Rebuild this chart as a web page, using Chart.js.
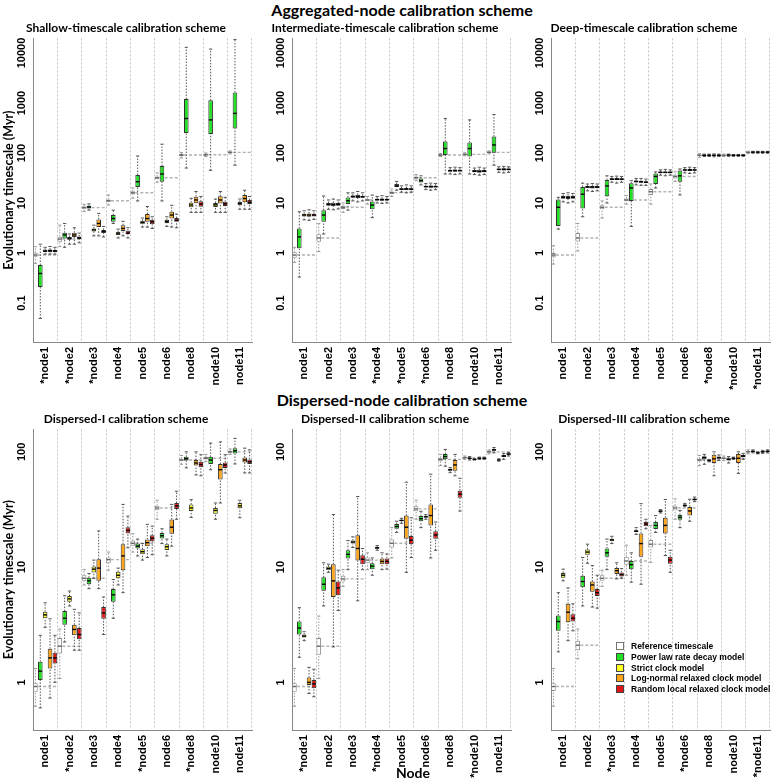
<!DOCTYPE html>
<html>
<head>
<meta charset="utf-8">
<title>Calibration schemes</title>
<script src="https://cdn.jsdelivr.net/npm/chart.js"></script>
<style>
  body { margin: 0; width: 778px; height: 779px; overflow: hidden; background: #fff; position: relative; }
  canvas { position: absolute; }
  .head { position: absolute; left: 0; width: 804px; text-align: center; font: bold 16px Lato, sans-serif; color: #000; z-index: 2; }
  #nodeLabel { position: absolute; left: 383px; width: 60px; top: 764px; text-align: center; font: bold 14px Lato, sans-serif; z-index: 2; }
  #legend { position: absolute; left: 614px; top: 641px; font: bold 8.5px "Liberation Sans", Arial, sans-serif; z-index: 2; }
  #legend div { height: 10.8px; line-height: 10.8px; white-space: nowrap; }
  #legend span { display: inline-block; width: 6px; height: 6px; margin: 0 7px 0 2px; vertical-align: -1px; border: 1px solid #555; }
</style>
</head>
<body>
<div class="head" style="top:0px">Aggregated-node calibration scheme</div>
<div class="head" style="top:390px">Dispersed-node calibration scheme</div>
<div id="nodeLabel">Node</div>
<div id="legend"></div>

<canvas id="c1" width="285" height="371" style="left:0px;top:19px"></canvas>
<canvas id="c2" width="285" height="371" style="left:259px;top:19px"></canvas>
<canvas id="c3" width="285" height="371" style="left:518px;top:19px"></canvas>
<canvas id="c4" width="285" height="368" style="left:0px;top:410px"></canvas>
<canvas id="c5" width="285" height="368" style="left:259px;top:410px"></canvas>
<canvas id="c6" width="285" height="368" style="left:518px;top:410px"></canvas>

<script>
// boxes are [lower whisker, q1, median, q3, upper whisker] in Myr
const models = ['Reference timescale', 'Power law rate decay model', 'Strict clock model',
  'Log-normal relaxed clock model', 'Random local relaxed clock model'];
const fills = ['#ffffff', '#22e022', '#ffff22', '#ffa51a', '#e01515'];
const edges = ['#8c8c8c', '#333333', '#333333', '#333333', '#333333'];

const topTicks = [0.1, 1, 10, 100, 1000, 10000];
const topTickLabels = ['0.1', '1', '10', '100', '1000', '10000'];
const bottomTicks = [1, 10, 100];
const bottomTickLabels = ['1', '10', '100'];

const shallowNodes = ['*node1', '*node2', '*node3', 'node4', 'node5', 'node6', 'node8', 'node10', 'node11'];
const interNodes = ['node1', 'node2', 'node3', '*node4', '*node5', '*node6', 'node8', 'node10', 'node11'];
const deepNodes = ['node1', 'node2', 'node3', 'node4', 'node5', 'node6', '*node8', '*node10', '*node11'];
const disp1Nodes = ['node1', '*node2', 'node3', 'node4', '*node5', 'node6', '*node8', 'node10', 'node11'];
const disp2Nodes = ['*node1', 'node2', 'node3', '*node4', 'node5', 'node6', 'node8', '*node10', 'node11'];
const disp3Nodes = ['node1', 'node2', '*node3', 'node4', 'node5', '*node6', 'node8', 'node10', '*node11'];

// Shallow-timescale
const shallowRef = [[0.62,0.84,0.91,1.01,1.34],[1.34,1.68,1.9,2.12,3.6],[6.8,7.7,8.1,8.5,9.4],[9.1,10.4,11.1,11.8,14.5],[12.5,15,16,17.2,20],[26,30,32,34,40],[80,87,91,95,102],[85,89,92,95,100],[96,100,103,106,110]];
const shallowPow = [[0.049,0.21,0.39,0.575,1.5],[1.3,1.96,2.3,2.55,3.9],[7.2,7.8,8.3,8.8,9.6],[3.9,4.2,4.9,5.75,7.2],[11,20.8,26.7,36.3,87],[11,26.7,38,55,150],[50,250,490,1200,13000],[45,240,460,1130,12000],[57,310,620,1630,18700]];
const shallowStrict = [[0.95,1.05,1.1,1.17,1.3],[1.5,1.85,1.96,2.1,2.4],[2.2,2.7,2.9,3.1,3.6],[2.0,2.3,2.5,2.6,3.0],[3.3,3.75,4.1,4.4,5.0],[3.4,4.0,4.3,4.6,5.3],[6.5,8.2,9.1,10.1,12.4],[6.5,8.3,9.2,10.0,12],[7.5,9.0,9.7,10.5,12]];
const shallowLogn = [[0.95,1.05,1.12,1.18,1.35],[1.5,2.1,2.3,2.55,3.2],[2.2,3.3,3.9,4.7,6.2],[2.2,2.75,3.1,3.6,4.3],[3.3,4.2,4.9,6.0,8.5],[3.3,4.9,5.75,6.7,9.0],[6.5,9.9,11.5,13.4,17],[6.5,9.8,11.5,13.6,17],[7.5,10.3,12.3,14.4,18]];
const shallowRloc = [[0.95,1.05,1.1,1.16,1.3],[1.6,1.9,2.0,2.15,2.5],[2.1,2.5,2.7,2.9,3.4],[2.0,2.4,2.5,2.8,3.2],[3.1,3.75,4.2,4.6,5.3],[3.2,4.2,4.5,5.0,6.0],[6.5,8.4,9.5,10.8,13.5],[6.5,8.7,9.6,10.6,13],[7.5,9.6,10.3,11.5,13.5]];

// Intermediate-timescale
const interRef = [[0.65,0.8,0.91,1.03,1.3],[1.07,1.68,2.0,2.37,3.9],[6.5,7.6,8.2,8.8,10],[9.5,10.8,11.5,12.2,13.5],[13.5,15.2,16.1,17,19],[28,30.5,32,34,37],[85,88,91,94,98],[88,91,94,97,101],[96,100,103,106,110]];
const interPow = [[0.33,1.24,2.1,3.1,6.7],[2.4,4.2,5.75,7.2,13.8],[7.2,9.5,11.1,12.9,16],[5.1,7.5,9.1,10.7,14.4],[18,20.8,22,24,27],[23,25.6,28,31,35],[38,91,123,169,490],[38,85,123,162,460],[57,101,145,213,590]];
const interStrict = [[4.6,5.4,5.75,6.1,7.0],[7.5,8.8,9.4,10,11.5],[11,12.8,13.5,14.2,16],[10,11.2,11.7,12.2,13.5],[16.5,18.2,19,19.8,22],[18.5,20.5,21.3,22.2,24.5],[38,42,44.5,46.5,51],[37,41,43,45.5,50],[41,45,47,49,53]];
const interLogn = [[4.5,5.3,5.75,6.2,7.3],[7.3,8.7,9.4,10.1,12],[10.5,12.6,13.6,14.6,17],[9.8,11.1,11.7,12.3,14],[16,18,19,20,23],[18,20.3,21.3,22.4,25],[37,42,44.5,47,52],[36,40.5,43,46,52],[40,44.5,47,49.5,54]];
const interRloc = [[4.7,5.4,5.75,6.1,7.0],[7.6,8.8,9.4,10,11.5],[11,12.7,13.3,14,16],[10,11.2,11.7,12.2,13.5],[16.5,18.2,19,19.8,22],[18.5,20.5,21.3,22.2,24.5],[38,42.5,44.5,46.5,51],[37,41,43,45.5,50],[41,45,47,49,53]];

// Deep-timescale
const deepRef = [[0.6,0.82,0.91,1.0,1.4],[1.1,1.7,2.0,2.5,3.9],[5.0,7.5,8.2,9.0,11],[9.5,10.8,11.5,12.3,14],[9.5,14.5,16.8,19,24],[27,31,33.8,36,42],[82,87,90,93,97],[85,88,90,92,95],[97,100,103,105,108]];
const deepPow = [[3.0,3.47,8.2,11.8,13],[5.3,7.8,15,21,25],[10,13.6,22,29,35],[3.4,11,20,24.7,28],[20,24,34,39,42],[14.5,26.7,35,44.5,48],[85,88,90,92,95],[86,89,91,93,95],[99,102,104,106,108]];
const deepStrict = [[10.5,12.2,13,13.8,15.5],[17.5,19.8,20.8,21.8,24],[26,28.8,30,31.2,34],[23,25.8,27,28.2,31],[36,39.5,41,42.5,46],[40,44,45.7,47.4,51],[85,88,90,92,95],[86,89,90,91,93],[99,102,104,106,108]];
const deepLogn = [[10,12,13,14,16],[17,19.6,20.8,22,24.5],[25,28.5,30,31.5,34.5],[22.5,25.3,26.6,28,31],[35,39.3,41,42.7,47],[39,43.7,45.7,47.7,52],[84,88,90,92,96],[86,89,90,91,93],[99,102,104,106,108]];
const deepRloc = [[10.5,12.2,13,13.8,15.5],[17.5,19.8,20.8,21.8,24],[26,28.8,30,31.2,34],[22.5,25,26,27.2,30],[36,39.5,41,42.5,46],[40,44,45.7,47.4,51],[85,88,90,92,95],[86,89,90,91,93],[99,102,104,106,108]];

// Dispersed-I
const disp1Ref = [[0.62,0.83,0.92,0.98,1.32],[1.08,1.78,2.06,2.43,2.9],[7.0,7.6,8.0,8.5,9.5],[9.4,10.8,11.6,12.1,13.5],[13.5,15.3,16.1,17,19.5],[26,31.1,32.6,34,38],[78,83,85,87.5,93],[82,86,88,90,95],[95,98,100,102,106]];
const disp1Pow = [[0.6,1.05,1.25,1.51,2.56],[2.24,3.16,3.6,4.15,5.65],[6.5,7.1,7.6,8.1,8.8],[3.6,5.0,5.75,6.45,7.8],[12.5,14.5,15.2,16,17.5],[16,17.7,18.7,19.8,21.5],[72.6,84,87,90.5,100],[70,78.5,85,90.5,119],[78.5,96.6,102,107.7,131]];
const disp1Strict = [[3.0,3.6,3.85,4.1,4.9],[4.6,5.0,5.3,5.6,6.2],[8.0,9.0,9.6,10.1,11.5],[7.0,8.0,8.5,9.1,9.8],[11.5,12.9,13.6,14.3,16],[12.5,14.1,15,15.8,17.5],[27,30.7,32.6,34.9,38.5],[26,29.1,31,32.6,36],[26.8,32.4,34,36,38]];
const disp1Logn = [[0.73,1.32,1.63,1.96,3.56],[1.9,2.56,2.88,3.16,4.3],[6.5,7.6,9.8,11.7,20.6],[6.0,9.4,12.5,15.8,35],[12.1,15.2,16.3,17.4,23.5],[15.2,19.5,22.2,25.9,35],[63,76,80,85,100],[36,57.5,70,78.5,122],[65.6,81,85,89.4,107.7]];
const disp1Rloc = [[1.0,1.46,1.63,1.81,2.56],[1.9,2.36,2.6,2.96,4.0],[2.6,3.56,4.0,4.5,5.5],[14.7,19.6,20.8,22.2,27.7],[12.8,16.8,17.8,18.9,22.7],[26,32,34,36,45.5],[62,73.6,77.6,82,94.5],[65.5,72.5,77,81,94.5],[65.6,78.5,82,86,104]];

// Dispersed-II
const disp2Ref = [[0.62,0.83,0.92,0.98,1.32],[1.08,1.74,2.06,2.43,3.76],[6.8,7.5,7.9,8.4,9.5],[9.5,10.8,11.5,12.1,13.3],[12,14.8,16.1,17.4,22],[26,30.5,32,33.8,38],[76,83,86,89,95],[86,88,89,90,92],[96,98.5,100,101.5,104]];
const disp2Pow = [[1.65,2.6,2.96,3.37,4.45],[4.6,6.25,7.1,8.15,10.9],[9.5,11.9,12.9,14,17],[8.5,9.6,10.2,10.8,12],[20,21.5,22.5,23.6,25],[22,25,26.3,27.7,30.5],[75,86.3,91,95.6,105],[85,87,88,89,91],[98,102,104,106,109]];
const disp2Strict = [[2.3,2.45,2.52,2.6,2.75],[9.0,9.4,9.75,10.1,10.6],[14.8,16,16.5,17,18.3],[14,14.4,14.7,15,15.4],[24,25,25.4,25.8,26.5],[26,27,27.3,27.6,28.5],[66,68.5,70,71.5,73],[85,85.5,86,86.5,87],[83,84.5,85,85.5,87]];
const disp2Logn = [[0.8,0.95,1.0,1.1,1.35],[2.03,5.5,7.6,10.6,28.6],[5.1,11.4,14.5,18.9,41],[9.5,10.6,11.2,11.9,13.3],[9.0,17.6,22.2,28,54.5],[12,23,28,35,64],[62,68.5,77,85,95],[86,87.5,88,88.5,90],[86,90,92,94,97]];
const disp2Rloc = [[0.75,0.89,0.97,1.05,1.3],[4.2,5.7,6.6,7.5,9.4],[9.5,10.6,11.7,12.7,14.5],[9.6,10.6,11.2,11.9,13],[12.1,15.8,17.1,18.6,26.8],[14,17.6,19,20.5,24.6],[30.6,40,43,46,59],[86,87.5,88,88.5,90],[92,94.5,95.7,97,99]];

// Dispersed-III
const disp3Ref = [[0.62,0.84,0.92,0.98,1.32],[1.6,1.9,2.1,2.3,2.9],[6.8,7.6,8.0,8.5,9.4],[8.5,10.5,11.3,12.3,15.5],[11,14.8,15.8,17.2,23],[26,31,32.6,34.3,39],[76,83,85,87.5,93],[84,87,88,89,92],[96,98.5,100,101.5,104]];
const disp3Pow = [[1.84,2.8,3.37,3.8,6.0],[4.6,6.7,7.5,8.4,12.1],[9.5,12.3,13.3,14.5,17.5],[7.4,9.6,10.5,11.3,13.3],[20,21.4,23,24.6,28],[22,25.8,27,28.3,31],[78,86,89,91.5,95],[80,84,86,88,91],[98,100,101,102,104]];
const disp3Strict = [[7.6,8.1,8.5,8.9,9.6],[10.8,12.8,13.5,14.2,15.8],[16,16.8,17.2,17.6,18.5],[19.2,20.1,20.5,20.9,22],[29.5,30.2,30.6,31,31.5],[33.5,34,34.4,34.8,35.7],[82,83.5,84,84.5,86],[86,87.5,88,88.5,90],[96,97.5,98,98.5,100]];
const disp3Logn = [[2.3,3.33,4.06,4.8,6.6],[4.5,6.1,7.0,7.5,10.3],[7.9,8.7,9.3,9.8,10.9],[7.1,12.3,16,19.6,35.5],[12.6,19.6,23,26.8,38.6],[25,28,30.7,33.3,38.8],[62,80,87,94.5,100],[65,80,88,95.7,100],[97,99,100,101,103]];
const disp3Rloc = [[2.8,3.37,3.6,3.9,4.8],[4.4,5.6,6.0,6.45,8.5],[8.0,8.3,8.6,9.0,9.7],[21.5,22.6,23.6,24.6,26],[9.0,10.7,11.5,12.3,14],[37,38,38.6,39.3,40.5],[84,87,89,91,94],[86,90,92,94,97],[98,100,101,102,104]];

const panels = [
  { id: 'c1', title: 'Shallow-timescale calibration scheme', nodes: shallowNodes, series: [shallowRef, shallowPow, shallowStrict, shallowLogn, shallowRloc], top: true, yTitle: true },
  { id: 'c2', title: 'Intermediate-timescale calibration scheme', nodes: interNodes, series: [interRef, interPow, interStrict, interLogn, interRloc], top: true, yTitle: false },
  { id: 'c3', title: 'Deep-timescale calibration scheme', nodes: deepNodes, series: [deepRef, deepPow, deepStrict, deepLogn, deepRloc], top: true, yTitle: false },
  { id: 'c4', title: 'Dispersed-I calibration scheme', nodes: disp1Nodes, series: [disp1Ref, disp1Pow, disp1Strict, disp1Logn, disp1Rloc], top: false, yTitle: true },
  { id: 'c5', title: 'Dispersed-II calibration scheme', nodes: disp2Nodes, series: [disp2Ref, disp2Pow, disp2Strict, disp2Logn, disp2Rloc], top: false, yTitle: false },
  { id: 'c6', title: 'Dispersed-III calibration scheme', nodes: disp3Nodes, series: [disp3Ref, disp3Pow, disp3Strict, disp3Logn, disp3Rloc], top: false, yTitle: false }
];

function seg(ctx, x1, y1, x2, y2) {
  ctx.beginPath(); ctx.moveTo(x1, y1); ctx.lineTo(x2, y2); ctx.stroke();
}

// whiskers, caps and the reference line across each node
const boxPlugin = {
  id: 'boxes',
  beforeDatasetsDraw(chart) {
    const { ctx, chartArea } = chart;
    const xs = chart.scales.x, ys = chart.scales.y;
    const half = (xs.right - xs.left) / chart.data.labels.length / 2;
    ctx.save();
    ctx.beginPath();
    ctx.rect(chartArea.left, chartArea.top, chartArea.right - chartArea.left, chartArea.bottom - chartArea.top);
    ctx.clip();
    chart.data.datasets.forEach((ds, i) => {
      chart.getDatasetMeta(i).data.forEach((bar, j) => {
        const s = ds.stats[j];
        const { x, width } = bar.getProps(['x', 'width'], true);
        const py = v => ys.getPixelForValue(v);
        if (i === 0) {
          const cx = xs.getPixelForValue(j);
          ctx.setLineDash([3, 2]); ctx.lineWidth = 1.4; ctx.strokeStyle = '#b3b3b3';
          seg(ctx, cx - half, py(s[2]), cx + half, py(s[2]));
        }
        ctx.strokeStyle = i === 0 ? '#9a9a9a' : '#555';
        ctx.lineWidth = 1;
        ctx.setLineDash([1.5, 1.5]);
        seg(ctx, x, py(s[0]), x, py(s[1]));
        seg(ctx, x, py(s[3]), x, py(s[4]));
        ctx.setLineDash([]);
        const c = width * 0.35;
        seg(ctx, x - c, py(s[0]), x + c, py(s[0]));
        seg(ctx, x - c, py(s[4]), x + c, py(s[4]));
      });
    });
    ctx.restore();
  },
  afterDatasetsDraw(chart) {
    const { ctx } = chart;
    const ys = chart.scales.y;
    ctx.save();
    chart.data.datasets.forEach((ds, i) => {
      chart.getDatasetMeta(i).data.forEach((bar, j) => {
        const { x, width } = bar.getProps(['x', 'width'], true);
        const y = ys.getPixelForValue(ds.stats[j][2]);
        ctx.strokeStyle = i === 0 ? '#666' : '#000';
        ctx.lineWidth = 1.4;
        seg(ctx, x - width / 2 + 0.5, y, x + width / 2 - 0.5, y);
      });
    });
    ctx.restore();
  }
};

// rotated y tick labels
const yLabelPlugin = {
  id: 'yLabels',
  afterDraw(chart, args, opts) {
    const { ctx } = chart;
    const ys = chart.scales.y;
    ctx.save();
    ctx.font = 'bold 11px "Liberation Sans"';
    ctx.fillStyle = '#000';
    ctx.textAlign = 'center';
    ctx.textBaseline = 'middle';
    ys.ticks.forEach((t, i) => {
      ctx.save();
      ctx.translate(ys.right - 11, ys.getPixelForValue(t.value));
      ctx.rotate(-Math.PI / 2);
      ctx.fillText(opts.labels[i], 0, 0);
      ctx.restore();
    });
    ctx.restore();
  }
};

panels.forEach(p => {
  const tickVals = p.top ? topTicks : bottomTicks;
  new Chart(document.getElementById(p.id), {
    type: 'bar',
    data: {
      labels: p.nodes,
      datasets: p.series.map((s, k) => ({
        label: models[k],
        data: s.map(b => [b[1], b[3]]),
        stats: s,
        backgroundColor: fills[k],
        borderColor: edges[k],
        borderWidth: 1,
        borderSkipped: false,
        categoryPercentage: 1.0,
        barPercentage: 0.95
      }))
    },
    options: {
      responsive: false,
      animation: false,
      devicePixelRatio: 1,
      layout: { padding: { left: 0, right: 33, top: 0, bottom: 0 } },
      plugins: {
        legend: { display: false },
        tooltip: { enabled: false },
        title: {
          display: true, text: p.title, color: '#000',
          font: { family: 'Lato', size: 12, weight: 'bold' },
          padding: { top: 2, bottom: 3 }
        },
        yLabels: { labels: p.top ? topTickLabels : bottomTickLabels }
      },
      scales: {
        x: {
          grid: { color: '#c4c4c4', lineWidth: 1, drawTicks: false, offset: true },
          border: { color: '#888', width: 1, dash: [2, 2] },
          ticks: {
            color: '#000', font: { family: 'Liberation Sans', size: 11, weight: 'bold' },
            minRotation: 90, maxRotation: 90, autoSkip: false, padding: 5
          },
          afterFit: s => { s.height = 48; }
        },
        y: {
          type: 'logarithmic',
          min: p.top ? 0.0166 : 0.386,
          max: p.top ? 19600 : 156.6,
          grid: { display: false },
          border: { color: '#888', width: 1 },
          ticks: { display: false },
          afterBuildTicks: s => { s.ticks = tickVals.map(v => ({ value: v })); },
          afterFit: s => { s.width = 33; },
          title: {
            display: p.yTitle, text: 'Evolutionary timescale (Myr)', color: '#000',
            font: { family: 'Lato', size: 12.5, weight: 'bold' },
            padding: { top: 1, bottom: 0 }
          }
        }
      }
    },
    plugins: [boxPlugin, yLabelPlugin]
  });
});

// legend inside the last panel
const legend = document.getElementById('legend');
models.forEach((m, k) => {
  const row = document.createElement('div');
  row.innerHTML = '<span style="background:' + fills[k] + ';border-color:' + (k === 0 ? '#777' : '#444') + '"></span>' + m;
  legend.appendChild(row);
});
</script>
</body>
</html>
